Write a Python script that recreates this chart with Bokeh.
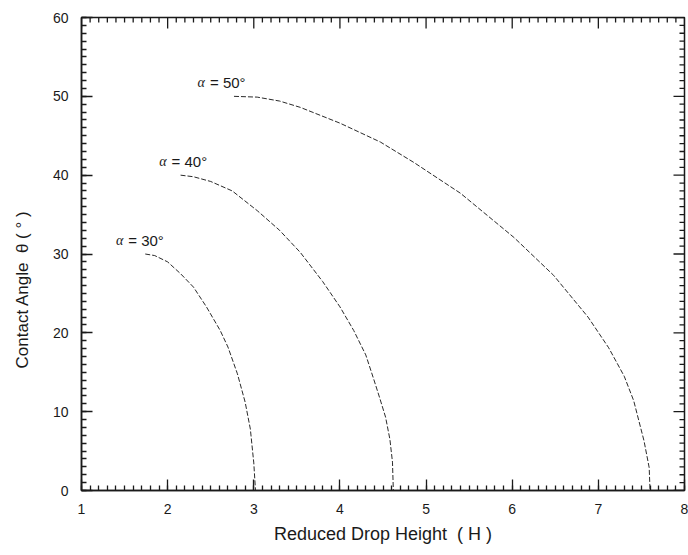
from math import pi

import numpy as np
from bokeh.core.properties import value
from bokeh.embed import file_html
from bokeh.models import ColumnDataSource, FixedTicker, Range1d
from bokeh.plotting import figure
from bokeh.resources import INLINE

# Contact angle theta (deg) against reduced drop height H, one curve per alpha
alphas = [30, 40, 50]
H_30 = [1.74, 1.85, 2.0, 2.15, 2.3, 2.45, 2.61, 2.7, 2.81, 2.9, 2.96, 3.0, 3.02]
theta_30 = [30.0, 29.8, 29.0, 27.5, 25.8, 23.3, 20.3, 18.2, 14.8, 11.2, 7.8, 3.5, 0.0]
H_40 = [2.15, 2.3, 2.5, 2.75, 3.04, 3.3, 3.54, 3.8, 4.0, 4.16, 4.3, 4.39, 4.46,
        4.53, 4.58, 4.61, 4.62]
theta_40 = [40.0, 39.8, 39.2, 38.0, 35.5, 33.0, 30.2, 26.5, 23.3, 20.3, 17.2, 14.2,
            11.8, 9.3, 6.5, 3.6, 0.0]
H_50 = [2.77, 3.04, 3.3, 3.54, 4.0, 4.47, 4.86, 5.4, 6.02, 6.48, 6.88, 7.12, 7.3,
        7.41, 7.53, 7.59, 7.6]
theta_50 = [50.0, 49.9, 49.4, 48.6, 46.6, 44.2, 41.6, 37.7, 32.1, 27.3, 22.0, 18.1,
            14.5, 11.4, 6.3, 2.9, 0.0]

x_ticks = [1, 2, 3, 4, 5, 6, 7, 8]
y_ticks = [0, 10, 20, 30, 40, 50, 60]
x_minor = list(np.round(np.arange(1, 8.001, 0.1), 2))
y_minor = list(range(0, 61))

curves = [(H_30, theta_30), (H_40, theta_40), (H_50, theta_50)]

# horizontal nudge (px) of each curve label relative to the curve's start
label_dx = [-17, -9, -24]

SANS = "Liberation Sans"
INK = "#1a1a1a"
NBSP = "\u00a0"
MAJOR_LEN, MINOR_LEN = 11, 5

x0, x1, y0, y1 = 1, 8, 0, 60

p = figure(
    width=688, height=555,
    x_range=Range1d(x0, x1), y_range=Range1d(y0, y1),
    output_backend="svg", toolbar_location=None,
    min_border_left=81, min_border_right=4, min_border_top=17, min_border_bottom=65,
)
p.xgrid.visible = False
p.ygrid.visible = False
p.outline_line_color = INK
p.outline_line_width = 1.5
p.background_fill_color = "white"
p.border_fill_color = "white"

p.xaxis.ticker = FixedTicker(ticks=x_ticks, minor_ticks=x_minor)
p.yaxis.ticker = FixedTicker(ticks=y_ticks, minor_ticks=y_minor)

for ax in (p.xaxis[0], p.yaxis[0]):
    ax.axis_line_width = 1.5
    ax.axis_line_color = INK
    ax.major_tick_in = MAJOR_LEN
    ax.major_tick_out = 0
    ax.minor_tick_in = MINOR_LEN
    ax.minor_tick_out = 0
    ax.major_tick_line_width = 1.3
    ax.minor_tick_line_width = 1.3
    ax.major_tick_line_color = INK
    ax.minor_tick_line_color = INK
    ax.major_label_text_font = SANS
    ax.major_label_text_font_size = "14px"
    ax.major_label_text_color = INK
    ax.major_label_standoff = 13
    ax.axis_label_text_font = SANS
    ax.axis_label_text_font_style = "normal"
    ax.axis_label_text_color = INK

p.xaxis.axis_label = "Reduced Drop Height" + NBSP * 2 + "( H )"
p.xaxis.axis_label_text_font_size = "18px"
p.xaxis.axis_label_standoff = 7
# trailing no-break spaces push the rotated title down along the axis
p.yaxis.axis_label = "Contact Angle" + NBSP * 2 + "\u03b8 ( \u00b0 )" + NBSP * 15
p.yaxis.axis_label_text_font_size = "17px"
p.yaxis.axis_label_standoff = 18

# mirrored inward ticks on the top and right edges of the frame
x_top_minor = [v for v in x_minor if v not in x_ticks]
y_right_minor = [v for v in y_minor if v not in y_ticks]
tick_style = dict(line_color=INK, line_width=1.3, length_units="screen")
p.ray(x=x_ticks, y=[y1] * len(x_ticks), length=MAJOR_LEN, angle=-pi / 2, **tick_style)
p.ray(x=x_top_minor, y=[y1] * len(x_top_minor), length=MINOR_LEN, angle=-pi / 2, **tick_style)
p.ray(x=[x1] * len(y_ticks), y=y_ticks, length=MAJOR_LEN, angle=pi, **tick_style)
p.ray(x=[x1] * len(y_right_minor), y=y_right_minor, length=MINOR_LEN, angle=pi, **tick_style)

for (H, th), a, dx in zip(curves, alphas, label_dx):
    src = ColumnDataSource(dict(H=H, theta=th))
    p.line("H", "theta", source=src, line_color="#2a2a2a", line_width=1.0, line_dash="5 2")

    lab = ColumnDataSource(dict(x=[H[0]], y=[th[0]], t=[f"= {a}\u00b0"], g=["\u03b1"]))
    p.text("x", "y", text="t", source=lab, x_offset=dx, y_offset=-14,
           text_font=value(SANS), text_font_size="15px", text_color=INK,
           text_align="left", text_baseline="alphabetic")
    p.text("x", "y", text="g", source=lab, x_offset=dx - 5, y_offset=-14,
           text_font=value("Liberation Serif"), text_font_style="italic",
           text_font_size="14px", text_color=INK,
           text_align="right", text_baseline="alphabetic")

open("out.html", "w").write(file_html(p, INLINE))
